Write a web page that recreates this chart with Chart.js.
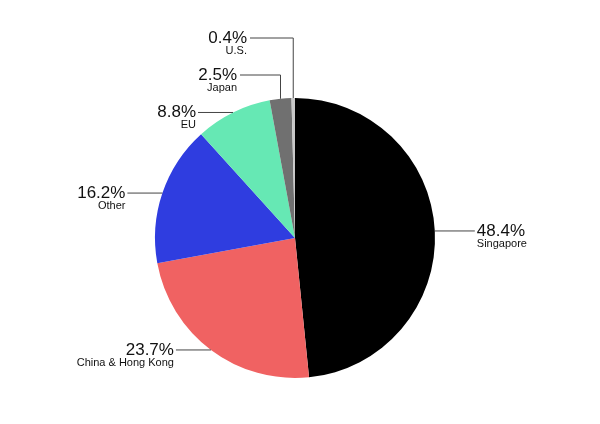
<!DOCTYPE html>
<html><head><meta charset="utf-8">
<script src="https://cdn.jsdelivr.net/npm/chart.js@4"></script>
<style>html,body{margin:0;padding:0;background:#fff}#c{display:block}</style>
</head><body>
<canvas id="c" width="600" height="424"></canvas>
<script>
const categories = ["Singapore","China & Hong Kong","Other","EU","Japan","U.S."];
const values = [48.4,23.7,16.2,8.8,2.5,0.4];
const colors = ["#000000","#f06262","#2f3de0","#66e8b4","#707070","#c8c8c8"];

const labelPlugin = {
  id:'labels',
  afterDatasetsDraw(chart){
    const ctx = chart.ctx;
    const meta = chart.getDatasetMeta(0);
    const elbowY = {4:75, 5:38};
    const elbowX = {4:240, 5:250};
    meta.data.forEach((arc,i)=>{
      const mid = (arc.startAngle+arc.endAngle)/2;
      const r = arc.outerRadius;
      const ex = arc.x + Math.cos(mid)*r, ey = arc.y + Math.sin(mid)*r;
      ctx.save();
      ctx.strokeStyle = '#444'; ctx.lineWidth = 1;
      ctx.beginPath(); ctx.moveTo(ex,ey);
      let tx, ty, align;
      if (elbowY[i] !== undefined) {
        ctx.lineTo(ex, elbowY[i]); ctx.lineTo(elbowX[i], elbowY[i]);
        tx = elbowX[i]-3; ty = elbowY[i]; align='right';
      } else if (Math.cos(mid) >= 0) {
        tx = ex+40; ty = ey; ctx.lineTo(tx,ey); tx += 2; align='left';
      } else {
        tx = ex-35; ty = ey; ctx.lineTo(tx,ey); tx -= 2; align='right';
      }
      ctx.stroke();
      ctx.fillStyle = '#111'; ctx.textAlign = align;
      ctx.font = '17px "Liberation Sans", Arial, sans-serif';
      ctx.textBaseline = 'alphabetic';
      ctx.fillText(values[i].toFixed(1)+'%', tx, ty+5);
      ctx.font = '11px "Liberation Sans", Arial, sans-serif';
      ctx.fillText(categories[i], tx, ty+16);
      ctx.restore();
    });
  }
};

new Chart(document.getElementById('c'), {
  type:'pie',
  data:{labels:categories, datasets:[{data:values, backgroundColor:colors, borderWidth:0}]},
  options:{
    responsive:false, animation:false,
    layout:{padding:{top:98,bottom:46,left:150,right:160}},
    plugins:{legend:{display:false}, tooltip:{enabled:false}}
  },
  plugins:[labelPlugin]
});
</script>
</body></html>
